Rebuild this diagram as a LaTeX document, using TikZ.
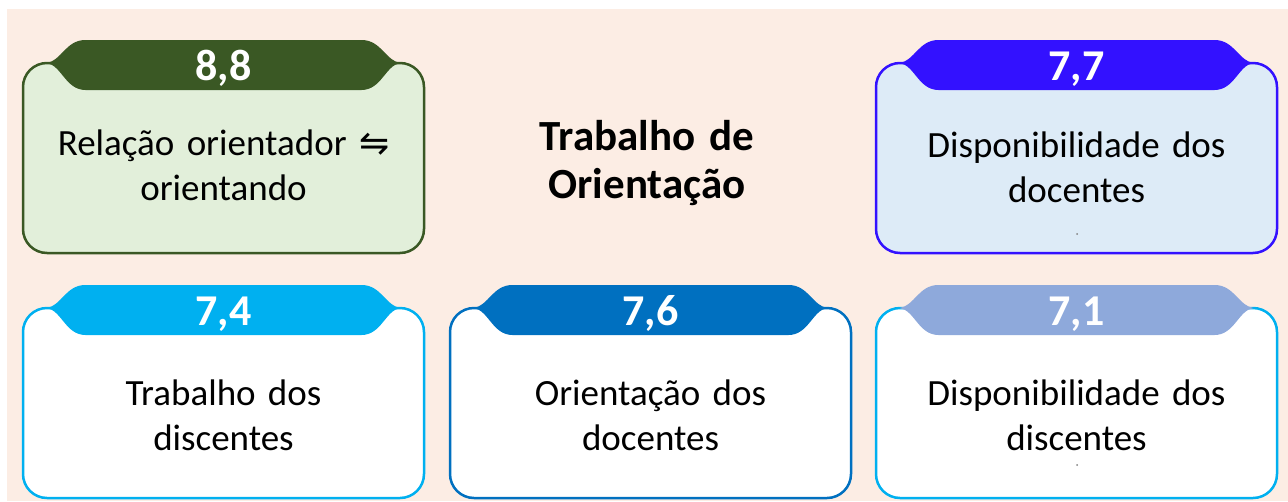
\documentclass[tikz,border=0pt]{standalone}
\usepackage{fontspec}
\setmainfont{Carlito}
\newfontfamily\arrowfont{DejaVu Sans}
\usetikzlibrary{positioning}

\definecolor{peach}{HTML}{FCEDE4}
\definecolor{greendark}{HTML}{3A5824}
\definecolor{greenfill}{HTML}{E2EFDA}
\definecolor{violetline}{HTML}{3311FF}
\definecolor{violetfill}{HTML}{DDEBF7}
\definecolor{cyanline}{HTML}{00B0F0}
\definecolor{bluedark}{HTML}{0070C0}
\definecolor{bluesoft}{HTML}{8EA9DB}

\begin{document}
\begin{tikzpicture}[x=1pt, y=-1pt,
                    card node/.style={rectangle, draw, line width=2.5pt, rounded corners=24pt,
                      minimum width=401pt, minimum height=190pt, inner sep=0pt, outer sep=0pt},
                    score node/.style={anchor=base, text=white, font=\fontsize{44}{48}\selectfont\bfseries},
                    text node/.style={anchor=base, text width=390pt, align=center,
                      font=\fontsize{37}{45}\selectfont},
                    title node/.style={anchor=base, text width=300pt, align=center,
                      font=\fontsize{43}{48}\selectfont\bfseries},
                    pics/card tab/.style={code={
                      \fill[#1] (-177,0) .. controls (-162,-2) and (-158,-23) .. (-138,-23)
                        -- (138,-23) .. controls (158,-23) and (162,-2) .. (177,0)
                        .. controls (162,2) and (158,27) .. (138,27)
                        -- (-138,27) .. controls (-158,27) and (-162,2) .. (-177,0) -- cycle;}}]

  \useasboundingbox (0,0) rectangle (1288,501);
  \fill[white] (0,0) rectangle (1288,501);
  \fill[peach] (7,9) rectangle (1288,501);

  % cards
  \node[card node, fill=greenfill, draw=greendark] (1) at (223.5,158) {};
  \node[card node, fill=white, draw=cyanline] (3) [below=55pt of 1] {};
  \node[card node, fill=white, draw=bluedark] (4) [right=26pt of 3] {};
  \node[card node, fill=white, draw=cyanline] (5) [right=25pt of 4] {};
  \node[card node, fill=violetfill, draw=violetline] (2) [above=55pt of 5] {};

  \pic at (1.north) {card tab=greendark};
  \pic at (2.north) {card tab=violetline};
  \pic at (3.north) {card tab=cyanline};
  \pic at (4.north) {card tab=bluedark};
  \pic at (5.north) {card tab=bluesoft};

  % scores
  \node[score node] (s1) at ([yshift=-17pt]1.north) {8,8};
  \node[score node] (s2) at ([yshift=-17pt]2.north) {7,7};
  \node[score node] (s3) at ([yshift=-17pt]3.north) {7,4};
  \node[score node] (s4) at ([yshift=-17pt]4.north) {7,6};
  \node[score node] (s5) at ([yshift=-17pt]5.north) {7,1};

  % texts
  \node[text node] (t1) at ([yshift=-92pt]1.north) {Relação orientador {\arrowfont\fontsize{36}{45}\selectfont ⇋}\\orientando};
  \node[text node] (t2) at ([yshift=-94pt]2.north) {Disponibilidade dos\\docentes};
  \node[text node] (t3) at ([yshift=-97pt]3.north) {Trabalho dos\\discentes};
  \node[text node] (t4) at ([yshift=-97pt]4.north) {Orientação dos\\docentes};
  \node[text node] (t5) at ([yshift=-97pt]5.north) {Disponibilidade dos\\discentes};

  \node[title node] (title) at (647,150) {Trabalho de\\Orientação};

  \fill[gray] (1077,234) circle (1pt);
  \fill[gray] (1077,465) circle (1pt);
\end{tikzpicture}
\end{document}
